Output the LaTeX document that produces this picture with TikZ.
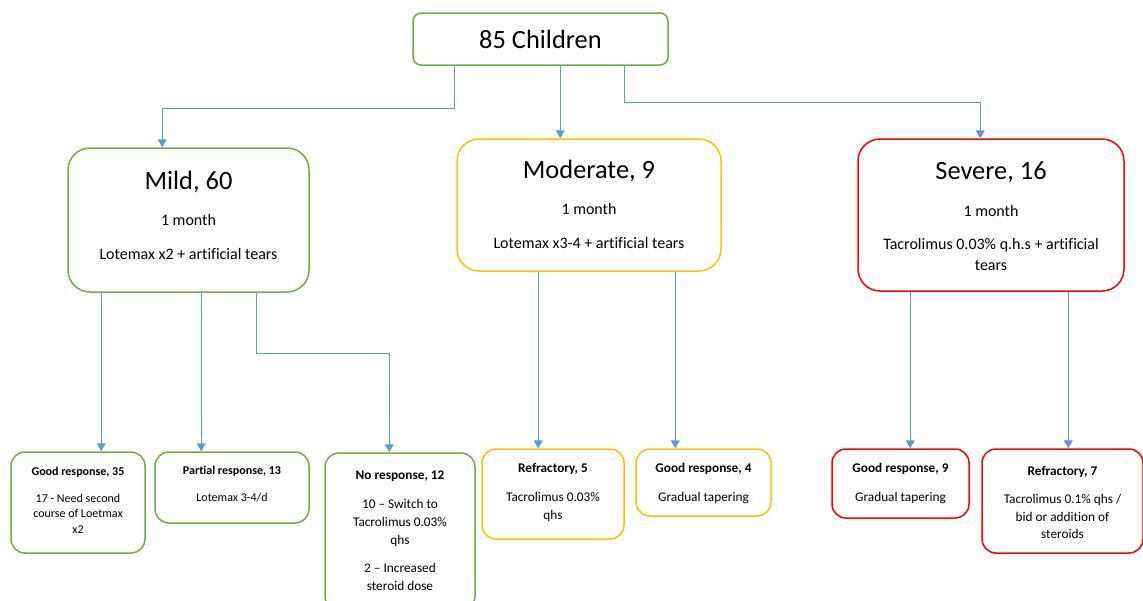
\documentclass[tikz,border=0pt]{standalone}
\usepackage{fontspec}
\setmainfont[Ligatures=NoCommon]{Carlito}
\usetikzlibrary{arrows.meta,calc}
\definecolor{cgreen}{HTML}{70AD47}
\definecolor{cyellow}{HTML}{FFC000}
\definecolor{cred}{HTML}{FF0000}
\definecolor{cblue}{HTML}{5B9BD5}
\tikzset{
  box/.style={draw, line width=1.5pt, fill=white, inner sep=0pt},
  bigbox/.style={box, rounded corners=22pt},
  smallbox/.style={box, rounded corners=14pt},
  txt/.style={anchor=north, align=center, inner sep=0pt},
  bigtxt/.style={txt, font=\fontsize{16}{21}\selectfont},
  smalltxt/.style={txt, font=\fontsize{12}{15.5}\selectfont},
  midtxt/.style={txt, font=\fontsize{13.3}{18}\selectfont},
  conn/.style={draw=cblue, line width=1pt, -{Triangle[width=9pt,length=8pt]}},
}
\newcommand{\ttl}[1]{{\fontsize{26.4}{26.4}\selectfont #1}}
\begin{document}
\begin{tikzpicture}[x=1pt,y=-1pt]
\useasboundingbox (0,0) rectangle (1143,600);
% top
\node[box, draw=cgreen, rounded corners=8pt, minimum width=255pt, minimum height=52pt,
      font=\fontsize{26.4}{26.4}\selectfont] (top) at (540.5,39) {85 Children};
% level 1
\node[bigbox, draw=cgreen, minimum width=241pt, minimum height=144pt] (mild) at (188.5,220) {};
\node[bigbox, draw=cyellow, minimum width=264pt, minimum height=132pt] (moderate) at (589,205) {};
\node[bigbox, draw=cred, minimum width=266pt, minimum height=152pt] (severe) at (991,215) {};
\node[bigtxt] (mildtxt) at (188.5,170.5) {\ttl{Mild, 60}\\[15pt]1 month\\[13pt]Lotemax x2 + artificial tears};
\node[bigtxt] (modtxt) at (589,160) {\ttl{Moderate, 9}\\[15pt]1 month\\[13pt]Lotemax x3-4 + artificial tears};
\node[bigtxt] (sevtxt) at (991,161) {\ttl{Severe, 16}\\[16pt]1 month\\[12pt]Tacrolimus 0.03\% q.h.s + artificial\\tears};
% level 2
\node[smallbox, draw=cgreen, minimum width=134pt, minimum height=101pt] (good35) at (78,502.5) {};
\node[smallbox, draw=cgreen, minimum width=154pt, minimum height=71pt] (partial) at (232,487.5) {};
\node[smallbox, draw=cgreen, minimum width=150pt, minimum height=157pt] (noresp) at (400,531.5) {};
\node[smallbox, draw=cyellow, minimum width=142pt, minimum height=90pt] (refr5) at (553,494) {};
\node[smallbox, draw=cyellow, minimum width=135pt, minimum height=67pt] (good4) at (703.5,482.5) {};
\node[smallbox, draw=cred, minimum width=137pt, minimum height=69pt] (good9) at (900.5,483.5) {};
\node[smallbox, draw=cred, minimum width=161pt, minimum height=104pt] (refr7) at (1062.5,501) {};
\node[smalltxt] (good35txt) at (78,466.5) {\textbf{Good response, 35}\\[11.5pt]17 - Need second\\course of Loetmax\\x2};
\node[smalltxt] (partialtxt) at (232,466) {\textbf{Partial response, 13}\\[11.5pt]Lotemax 3-4/d};
\node[midtxt] (noresptxt) at (400,470.5) {\textbf{No response, 12}\\[11pt]10 – Switch to\\Tacrolimus 0.03\%\\qhs\\[10pt]2 – Increased\\steroid dose};
\node[midtxt] (refr5txt) at (553,463.3) {\textbf{Refractory, 5}\\[11pt]Tacrolimus 0.03\%\\qhs};
\node[midtxt] (good4txt) at (703.5,463) {\textbf{Good response, 4}\\[11pt]Gradual tapering};
\node[midtxt] (good9txt) at (900.5,463) {\textbf{Good response, 9}\\[11pt]Gradual tapering};
\node[midtxt, font=\fontsize{13.3}{17.5}\selectfont] (refr7txt) at (1062.5,465.7) {\textbf{Refractory, 7}\\[11pt]Tacrolimus 0.1\% qhs /\\bid or addition of\\steroids};
% connectors
\draw[conn] ($(top.south west)+(42,0)$) -- ++(0,43) -| ($(mild.north west)+(95,0)$);
\draw[conn] ($(top.south west)+(148,0)$) -- ($(moderate.north west)+(104,0)$);
\draw[conn] ($(top.south west)+(212,0)$) -- ++(0,37) -| ($(severe.north west)+(123,0)$);
\draw[conn] ($(mild.south west)+(34,0)$) -- ($(good35.north west)+(91,0)$);
\draw[conn] ($(mild.south west)+(134,0)$) -- ($(partial.north west)+(47,0)$);
\draw[conn] ($(mild.south west)+(189,0)$) -- ++(0,61) -| ($(noresp.north west)+(65,0)$);
\draw[conn] ($(moderate.south west)+(82,0)$) -- ($(refr5.north west)+(57,0)$);
\draw[conn] ($(moderate.south west)+(219,0)$) -- ($(good4.north west)+(40,0)$);
\draw[conn] ($(severe.south west)+(53,0)$) -- ($(good9.north west)+(79,0)$);
\draw[conn] ($(severe.south west)+(211,0)$) -- ($(refr7.north west)+(87,0)$);
\end{tikzpicture}
\end{document}
